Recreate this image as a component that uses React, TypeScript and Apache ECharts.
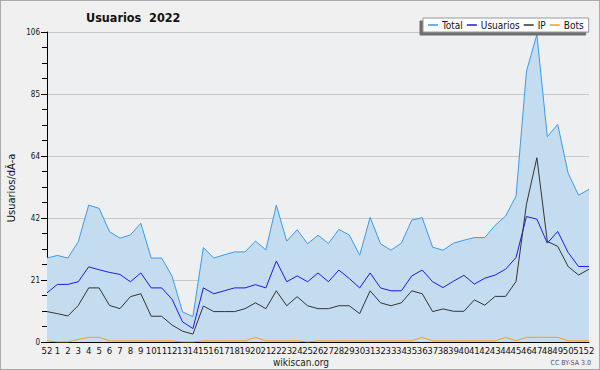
import React, { useEffect, useRef } from "react";
import * as echarts from "echarts";

const weeks = ["52", "1", "2", "3", "4", "5", "6", "7", "8", "9", "10", "11", "12", "13", "14", "15", "16", "17", "18", "19", "20", "21", "22", "23", "24", "25", "26", "27", "28", "29", "30", "31", "32", "33", "34", "35", "36", "37", "38", "39", "40", "41", "42", "43", "44", "45", "46", "47", "48", "49", "50", "51", "52"];

const total = [28.7, 29.6, 28.7, 34.3, 46.8, 45.7, 37.7, 35.5, 36.6, 40.6, 28.7, 28.7, 22.5, 10.3, 8.7,
  32.3, 28.7, 29.8, 30.8, 30.8, 34.5, 31.5, 46.8, 34.5, 38.4, 33.6, 36.5, 33.7,
  38.5, 36.6, 29.7, 42.6, 33.6, 31.4, 33.8, 41.7, 42.5, 32.4,
  31.4, 33.8, 34.8, 35.7, 35.7, 39.9, 43.1, 49.9, 92.6, 105.1, 70.2, 74.4, 57.7, 50.2, 52.2];

const usuarios = [16.8, 19.7, 19.7, 20.6, 25.7, 24.7, 23.8, 23.1, 20.6, 23.6, 18.5, 18.5, 14.6, 6.9, 4.6,
  18.5, 16.5, 17.5, 18.5, 18.5, 19.6, 18.5, 27.7, 20.6, 22.6, 20.6, 23.6, 20.6,
  24.6, 21.7, 18.5, 23.6, 18.5, 17.5, 17.5, 22.6, 24.6, 20.6,
  18.6, 20.8, 22.8, 19.8, 21.8, 22.9, 24.9, 28.9, 42.9, 42.0, 33.8, 37.8, 30.6, 25.8, 25.8];

const ip = [10.4, 9.7, 8.9, 12.5, 18.5, 18.5, 12.5, 11.4, 15.5, 16.5, 8.8, 8.8, 5.8, 3.7, 2.7,
  12.3, 10.4, 10.4, 10.4, 11.4, 13.4, 11.4, 17.5, 12.4, 15.5, 12.4, 11.4, 11.4,
  12.4, 12.4, 9.7, 17.5, 13.4, 12.4, 13.4, 17.5, 16.5, 10.4,
  11.3, 10.5, 10.5, 14.4, 12.6, 15.6, 15.6, 20.7, 47.1, 63.0, 34.4, 32.7, 25.8, 22.9, 24.9];

const bots = [0.4, 0, 0, 0.9, 1.6, 1.6, 0.4, 0.4, 0.4, 0.4, 0.4, 0.4, 0.4, 0, 0,
  0.4, 0.4, 0.4, 0.4, 0.4, 1.6, 0.4, 0.4, 0.4, 0.4, 0, 0.4, 0.4,
  0.4, 0.4, 0.4, 0.4, 0.4, 0.4, 0.4, 0.4, 1.6, 0.4,
  0.4, 0.4, 0.4, 0.4, 0.4, 0.4, 1.6, 0.4, 1.6, 1.6, 1.6, 1.6, 0.4, 0.4, 0.4];

const FONT = "DejaVu Sans Condensed, DejaVu Sans, sans-serif";

export default function App() {
  const ref = useRef<HTMLDivElement>(null);
  useEffect(() => {
    if (!ref.current) return;
    const chart = echarts.init(ref.current, undefined, { renderer: "svg" });
    const mkLine = (name: string, data: number[], color: string, area?: string) => ({
      name,
      type: "line",
      data,
      showSymbol: false,
      symbol: "none",
      lineStyle: { color, width: 1 },
      itemStyle: { color },
      areaStyle: area ? { color: area, opacity: 1 } : undefined,
      z: 2,
    });
    chart.setOption({
      animation: false,
      backgroundColor: "#f0f0f0",
      textStyle: { fontFamily: FONT },
      grid: { left: 46, right: 10, top: 31, bottom: 27, show: true, backgroundColor: "#eeeff1", borderWidth: 0 },
      legend: {
        left: 422,
        top: 17,
        padding: [2, 5, 2, 5],
        itemGap: 4,
        itemWidth: 10,
        itemHeight: 1.5,
        icon: "rect",
        backgroundColor: "#ffffff",
        borderColor: "#999999",
        borderWidth: 1,
        borderRadius: 0,
        shadowColor: "rgba(110,110,110,1)",
        shadowOffsetX: -3,
        shadowOffsetY: 3,
        shadowBlur: 0,
        textStyle: { fontSize: 10, color: "#111", fontFamily: FONT, padding: [0, 0, 0, -1] },
        data: ["Total", "Usuarios", "IP", "Bots"],
      },
      xAxis: {
        type: "category",
        data: weeks,
        boundaryGap: false,
        axisLine: { lineStyle: { color: "#000", width: 1 } },
        axisTick: { show: false },
        axisLabel: { interval: 0, fontSize: 9.5, color: "#111", margin: 3, fontFamily: FONT },
        splitLine: { show: false },
      },
      yAxis: {
        type: "value",
        min: 0,
        max: 106,
        interval: 21.2,
        axisLine: { show: true, lineStyle: { color: "#000", width: 1 } },
        axisTick: { show: true, length: 6, lineStyle: { color: "#000" } },
        minorTick: { show: true, splitNumber: 4, length: 5, lineStyle: { color: "#000" } },
        axisLabel: {
          fontSize: 8,
          color: "#111",
          margin: 7,
          fontFamily: FONT,
          formatter: (v: number) => String(Math.round(v)),
        },
        splitLine: { show: true, lineStyle: { color: "#c8c8c8", width: 1 } },
      },
      title: {
        text: "Usuarios  2022",
        left: 80,
        top: 5,
        textStyle: { fontSize: 12.5, fontWeight: "bold", color: "#111", fontFamily: FONT },
      },
      graphic: [
        {
          type: "text",
          x: 10,
          y: 187,
          rotation: Math.PI / 2,
          style: { text: "Usuarios/dÃ-a", fontSize: 11, fill: "#111", fontFamily: FONT, align: "center", verticalAlign: "middle" },
        },
        {
          type: "text",
          x: 300,
          y: 361,
          style: { text: "wikiscan.org", fontSize: 10, fill: "#222", fontFamily: FONT, align: "center", verticalAlign: "middle" },
        },
        {
          type: "text",
          x: 590,
          y: 362,
          style: { text: "CC BY-SA 3.0", fontSize: 7, fill: "#555", fontFamily: FONT, align: "right", verticalAlign: "middle" },
        },
      ],
      series: [
        mkLine("Total", total, "#3c9ae8", "#c4dcf0"),
        mkLine("Usuarios", usuarios, "#1a1aee"),
        mkLine("IP", ip, "#333333"),
        mkLine("Bots", bots, "#ff9a1a"),
      ],
    });
    return () => chart.dispose();
  }, []);
  return (
    <div
      ref={ref}
      style={{
        position: "absolute",
        left: 0,
        top: 0,
        width: 600,
        height: 370,
        boxSizing: "border-box",
        border: "1px solid #aaaaaa",
      }}
    />
  );
}
